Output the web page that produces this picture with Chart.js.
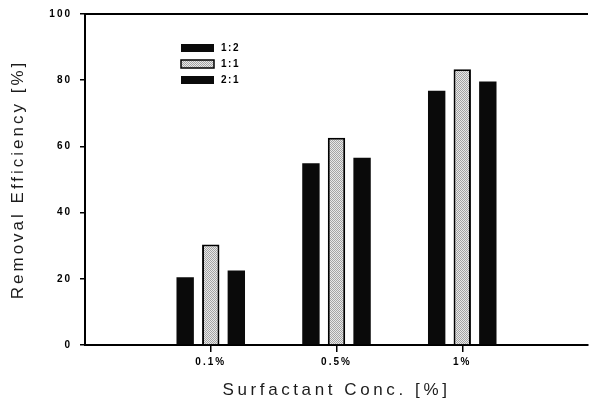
<!DOCTYPE html>
<html>
<head>
<meta charset="utf-8">
<script src="https://cdn.jsdelivr.net/npm/chart.js@4.4.1/dist/chart.umd.min.js"></script>
<style>
  html, body { margin: 0; padding: 0; background: #fff; }
  #wrap { width: 592px; height: 407px; }
</style>
</head>
<body>
<div id="wrap"><canvas id="removalChart" width="592" height="407"></canvas></div>
<script>
// data
var conc_labels   = ['', '0.1%', '0.5%', '1%', ''];
var ratio_labels  = ['1:2', '1:1', '2:1'];
var eff_1_2 = [null, 20.5, 54.9, 76.8, null];
var eff_1_1 = [null, 30.4, 62.6, 83.3, null];
var eff_2_1 = [null, 22.5, 56.6, 79.6, null];
var y_ticks = [0, 20, 40, 60, 80, 100];

var fontFam = '"Liberation Sans", Arial, sans-serif';
var tickSpacing = '2px';

// dotted grey fill of the middle bar
function makeDither(){
    var c = document.createElement('canvas');
    c.width = 2; c.height = 2;
    var g = c.getContext('2d');
    g.fillStyle = '#e8e8e8';
    g.fillRect(0, 0, 2, 2);
    g.fillStyle = '#a4a4a4';
    g.fillRect(0, 0, 1, 1);
    g.fillRect(1, 1, 1, 1);
    return g.createPattern(c, 'repeat');
}
var greyDots = makeDither();

// titles get wider letter spacing than the tick labels
function spaceTitle(s, sp){
    if (s._spaced) return;
    var orig = s.drawTitle;
    s.drawTitle = function(){
        this.ctx.letterSpacing = sp;
        orig.call(this);
        this.ctx.letterSpacing = tickSpacing;
    };
    s._spaced = true;
}

var spacingPlugin = {
    id: 'spacing',
    beforeDraw: function(chart){
        chart.ctx.letterSpacing = tickSpacing;
    }
};

// top frame line + legend box inside the plot
var framePlugin = {
    id: 'frame',
    afterDraw: function(chart){
        var ctx = chart.ctx;
        var a = chart.chartArea;
        ctx.save();
        ctx.strokeStyle = '#000';
        ctx.lineWidth = 2;
        ctx.beginPath();
        ctx.moveTo(a.left, a.top);
        ctx.lineTo(a.right, a.top);
        ctx.stroke();

        // LEGEND
        var x0 = 181, y0 = 48, rowH = 16;
        ctx.font = 'bold 10px ' + fontFam;
        ctx.textBaseline = 'middle';
        ctx.letterSpacing = '1.5px';
        chart.data.datasets.forEach(function(ds, i){
            var yc = y0 + i * rowH;
            ctx.fillStyle = ds.backgroundColor;
            ctx.fillRect(x0, yc - 4, 33, 8);
            if (ds.borderWidth){
                ctx.strokeStyle = '#000';
                ctx.lineWidth = 1.5;
                ctx.strokeRect(x0, yc - 4, 33, 8);
            }
            ctx.fillStyle = '#000';
            ctx.fillText(ds.label, x0 + 40, yc);
        });
        ctx.restore();
    }
};

var ctx = document.getElementById('removalChart').getContext('2d');
var myChart = new Chart(ctx, {
    type: 'bar',
    data: {
        labels: conc_labels,
        datasets: [{
            label: ratio_labels[0],
            data: eff_1_2,
            backgroundColor: '#0a0a0a',
            borderWidth: 0
        },
        {
            label: ratio_labels[1],
            data: eff_1_1,
            backgroundColor: greyDots,
            borderColor: '#000',
            borderWidth: 2
        },
        {
            label: ratio_labels[2],
            data: eff_2_1,
            backgroundColor: '#0a0a0a',
            borderWidth: 0
        }]
    },
    options: {
        responsive: false,
        animation: false,
        layout: { padding: { top: 11, right: 1, left: 0, bottom: 0 } },
        datasets: {
            bar: { categoryPercentage: 0.61, barPercentage: 0.68 }
        },
        plugins: {
            legend: { display: false },
            tooltip: { enabled: false }
        },
        scales: {
            x: {
                offset: false,
                grid: {
                    offset: false,
                    drawOnChartArea: false,
                    tickLength: 7,
                    lineWidth: 1.5,
                    color: function(c){ return (c.tick && c.tick.label === '') ? 'rgba(0,0,0,0)' : '#000'; }
                },
                border: { color: '#000', width: 2 },
                ticks: {
                    color: '#000',
                    padding: 4,
                    maxRotation: 0,
                    autoSkip: false,
                    font: { family: fontFam, size: 10, weight: 'bold' }
                },
                title: {
                    display: true,
                    text: 'Surfactant Conc. [%]',
                    color: '#1c1c1c',
                    font: { family: fontFam, size: 17 },
                    padding: { top: 0, bottom: 6 }
                },
                afterFit: function(s){
                    s.height = 62;
                    spaceTitle(s, '3.6px');
                }
            },
            y: {
                min: 0,
                max: 100,
                afterBuildTicks: function(s){
                    s.ticks = y_ticks.map(function(v){ return { value: v }; });
                },
                grid: {
                    drawOnChartArea: false,
                    tickLength: 5,
                    lineWidth: 1.5,
                    color: '#000'
                },
                border: { color: '#000', width: 2 },
                ticks: {
                    color: '#000',
                    padding: 8,
                    font: { family: fontFam, size: 10, weight: 'bold' }
                },
                title: {
                    display: true,
                    text: 'Removal Efficiency [%]',
                    color: '#1c1c1c',
                    font: { family: fontFam, size: 17 },
                    padding: { top: 8, bottom: 0 }
                },
                afterFit: function(s){
                    s.width = 85;
                    spaceTitle(s, '3px');
                }
            }
        }
    },
    plugins: [spacingPlugin, framePlugin]
});
</script>
</body>
</html>
